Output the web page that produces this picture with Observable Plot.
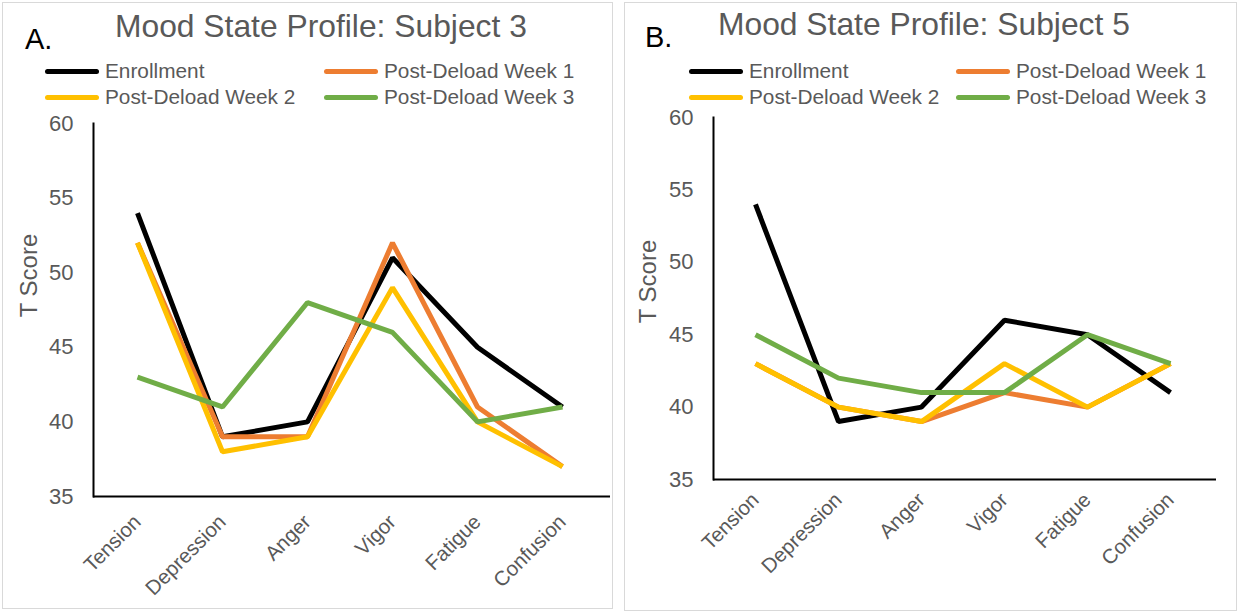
<!DOCTYPE html>
<html>
<head>
<meta charset="utf-8">
<script src="https://cdn.jsdelivr.net/npm/d3@7"></script>
<script src="https://cdn.jsdelivr.net/npm/@observablehq/plot@0.6"></script>
<style>
  html, body { margin: 0; padding: 0; background: #fff; }
  body { width: 1239px; height: 612px; position: relative; overflow: hidden; font-family: "Liberation Sans", Arial, sans-serif; }
  .panel { position: absolute; border: 1px solid #d9d9d9; box-sizing: border-box; background: #fff; }
  .panel svg { position: absolute; left: 0; top: 0; }
  .title { position: absolute; color: #595959; font-size: 31.8px; line-height: normal; white-space: nowrap; }
  .tag { position: absolute; color: #000; font-size: 29px; line-height: normal; }
  .leg { position: absolute; display: flex; align-items: center; height: 24px; color: #595959; font-size: 20.8px; white-space: nowrap; }
  .leg .sw { display: inline-block; width: 54px; height: 5px; border-radius: 3px; margin-right: 6px; }
</style>
</head>
<body>
<div id="root"></div>
<script>
const categories = ["Tension", "Depression", "Anger", "Vigor", "Fatigue", "Confusion"];
const seriesNames = ["Enrollment", "Post-Deload Week 1", "Post-Deload Week 2", "Post-Deload Week 3"];
const seriesColors = ["#000000", "#ED7D31", "#FFC000", "#70AD47"];
const yTicks = [35, 40, 45, 50, 55, 60];

// Subject 3
const s3Enrollment = [54, 39, 40, 51, 45, 41];
const s3Week1 = [52, 39, 39, 52, 41, 37];
const s3Week2 = [52, 38, 39, 49, 40, 37];
const s3Week3 = [43, 41, 48, 46, 40, 41];

// Subject 5
const s5Enrollment = [54, 39, 40, 46, 45, 41];
const s5Week1 = [43, 40, 39, 41, 40, 43];
const s5Week2 = [43, 40, 39, 43, 40, 43];
const s5Week3 = [45, 42, 41, 41, 45, 43];

function toRows(seriesValues) {
  const rows = [];
  seriesValues.forEach((vals, i) => {
    vals.forEach((v, j) => rows.push({series: seriesNames[i], category: categories[j], value: v}));
  });
  return rows;
}

function makePanel(cfg) {
  const panel = document.createElement("div");
  panel.className = "panel";
  Object.assign(panel.style, {left: cfg.left + "px", top: cfg.top + "px", width: cfg.width + "px", height: cfg.height + "px"});

  const rows = toRows(cfg.series);
  const chart = Plot.plot({
    width: cfg.width - 2,
    height: cfg.height - 2,
    marginLeft: cfg.mL, marginRight: cfg.mR, marginTop: cfg.mT, marginBottom: cfg.mB,
    style: {fontFamily: '"Liberation Sans", Arial, sans-serif', background: "transparent", overflow: "visible"},
    x: {type: "point", domain: categories, padding: 0.5},
    y: {domain: [35, 60]},
    color: {domain: seriesNames, range: seriesColors},
    marks: [
      Plot.axisY({ticks: yTicks, tickSize: 0, tickPadding: 20, fontSize: 22, fill: "#595959", label: null}),
      Plot.axisX({tickSize: 0, tickPadding: cfg.xPad, tickRotate: -45, fontSize: 20.5, fill: "#595959", label: null, textAnchor: "end"}),
      Plot.text(["T Score"], {frameAnchor: "top-left", textAnchor: "middle", lineAnchor: "middle", rotate: -90, dx: cfg.labelDx, dy: cfg.labelDy, fontSize: 24, fill: "#595959"}),
      Plot.line(rows, {x: "category", y: "value", z: "series", stroke: "series", strokeWidth: 5, strokeLinejoin: "miter", strokeLinecap: "butt"}),
      Plot.ruleY([35], {stroke: "#000", strokeWidth: 2, insetRight: -4}),
      Plot.frame({anchor: "left", stroke: "#000", strokeWidth: 2})
    ]
  });
  panel.appendChild(chart);

  const tag = document.createElement("div");
  tag.className = "tag"; tag.textContent = cfg.tag;
  Object.assign(tag.style, {left: cfg.tagX + "px", top: cfg.tagY + "px"});
  panel.appendChild(tag);

  const title = document.createElement("div");
  title.className = "title"; title.textContent = cfg.title;
  Object.assign(title.style, {left: cfg.titleX + "px", top: cfg.titleY + "px"});
  panel.appendChild(title);

  seriesNames.forEach((name, i) => {
    const item = document.createElement("div");
    item.className = "leg";
    const col = i % 2, row = Math.floor(i / 2);
    Object.assign(item.style, {left: (col === 0 ? cfg.leg1X : cfg.leg2X) + "px", top: (cfg.legY + row * 26) + "px"});
    const sw = document.createElement("span");
    sw.className = "sw"; sw.style.background = seriesColors[i];
    item.appendChild(sw);
    item.appendChild(document.createTextNode(name));
    panel.appendChild(item);
  });

  document.getElementById("root").appendChild(panel);
}

makePanel({
  left: 2, top: 2, width: 611, height: 607,
  mL: 90, mR: 6, mT: 120, mB: 112, labelDx: -64, labelDy: 152, xPad: 22,
  series: [s3Enrollment, s3Week1, s3Week2, s3Week3],
  tag: "A.", tagX: 22, tagY: 20,
  title: "Mood State Profile: Subject 3", titleX: 112, titleY: 5,
  leg1X: 42, leg2X: 321, legY: 56
});

makePanel({
  left: 624, top: 2, width: 613, height: 609,
  mL: 88, mR: 24, mT: 114, mB: 131, labelDx: -65, labelDy: 164, xPad: 17,
  series: [s5Enrollment, s5Week1, s5Week2, s5Week3],
  tag: "B.", tagX: 20, tagY: 18,
  title: "Mood State Profile: Subject 5", titleX: 93, titleY: 3,
  leg1X: 64, leg2X: 331, legY: 56
});
</script>
</body>
</html>
